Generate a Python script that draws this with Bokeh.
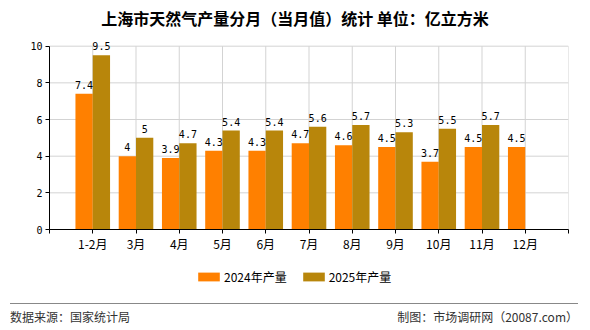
from bokeh.plotting import figure
from bokeh.layouts import column
from bokeh.models import (ColumnDataSource, FixedTicker, Legend, LegendItem, Range1d, Div)
from bokeh.embed import file_html
from bokeh.resources import INLINE
from bokeh.core.properties import value

title_text = "上海市天然气产量分月（当月值）统计 单位：亿立方米"
categories = ["1-2月", "3月", "4月", "5月", "6月", "7月", "8月", "9月", "10月", "11月", "12月"]
v2024 = [7.4, 4, 3.9, 4.3, 4.3, 4.7, 4.6, 4.5, 3.7, 4.5, 4.5]
v2025 = [9.5, 5, 4.7, 5.4, 5.4, 5.6, 5.7, 5.3, 5.5, 5.7, None]
y_ticks = [0, 2, 4, 6, 8, 10]
series_names = ["2024年产量", "2025年产量"]
colors = ["#FF8000", "#B8860B"]
source_left = "数据来源：国家统计局"
source_right = "制图：市场调研网（20087.com）"

BAR_W = 0.4
GRID = "#d3d3d3"


def make_source(vals, shift):
    xs, tops, labels = [], [], []
    for i, v in enumerate(vals):
        if v is None:
            continue
        xs.append(i + 1 + shift)
        tops.append(v)
        labels.append(f"{v:g}")
    return ColumnDataSource(dict(x=xs, top=tops, label=labels))


s24 = make_source(v2024, -BAR_W / 2)
s25 = make_source(v2025, BAR_W / 2)

n = len(categories)
x_end = n + 1
y_max = y_ticks[-1]

title_div = Div(text=title_text, width=590, height=36,
                styles={"font-family": "Noto Sans CJK SC", "font-size": "16px",
                        "font-weight": "bold", "text-align": "center", "line-height": "36px",
                        "color": "black", "width": "590px", "height": "36px",
                        "margin": "0", "padding": "0", "background": "white"})

# main figure spans page y 36..257; frame 40..229 (0..10 maps 229..46)
p = figure(width=590, height=221, x_range=Range1d(0, x_end), y_range=Range1d(0, 10.31),
           output_backend="svg", toolbar_location=None,
           min_border_left=49, min_border_right=22, min_border_top=4, min_border_bottom=28)
p.outline_line_color = None
p.background_fill_color = "white"
p.border_fill_color = "white"
p.xgrid.visible = False
p.ygrid.visible = False

xt = FixedTicker(ticks=list(range(0, x_end + 1)))
yt = FixedTicker(ticks=y_ticks)
p.xaxis.ticker = xt
p.yaxis.ticker = yt
p.yaxis.bounds = (0, y_max)
overrides = {0: "", x_end: ""}
for i, c in enumerate(categories):
    overrides[i + 1] = c
p.xaxis.major_label_overrides = overrides

for ax in (p.xaxis[0], p.yaxis[0]):
    ax.axis_line_color = "black"
    ax.major_tick_line_color = "black"
    ax.minor_tick_line_color = None
    ax.major_tick_out = 4
    ax.major_tick_in = 0
    ax.major_label_text_color = "black"
p.xaxis.major_label_standoff = 1
p.yaxis.major_label_standoff = 3
p.xaxis.major_label_text_font = "Noto Sans CJK SC"
p.xaxis.major_label_text_font_size = "12px"
p.yaxis.major_label_text_font = "DejaVu Sans Mono"
p.yaxis.major_label_text_font_size = "10px"

# grid lines from the tick positions, limited to the 0..10 box
gx = list(range(1, x_end + 1))
p.segment(x0=gx, x1=gx, y0=[0] * len(gx), y1=[y_max] * len(gx), line_color=GRID, line_width=1)
gy = y_ticks[1:]
p.segment(x0=[0] * len(gy), x1=[x_end] * len(gy), y0=gy, y1=gy, line_color=GRID, line_width=1)

r1 = p.vbar(x="x", top="top", width=BAR_W, source=s24, fill_color=colors[0], line_color=None)
r2 = p.vbar(x="x", top="top", width=BAR_W, source=s25, fill_color=colors[1], line_color=None)

for s in (s24, s25):
    p.text(x="x", y="top", text="label", source=s, text_align="center", text_baseline="bottom",
           y_offset=-5, text_font=value("DejaVu Sans Mono"), text_font_size="10px",
           text_color="black")

# legend strip (page y 257..297): the same series drawn again, out of its visible range,
# only so that the legend has glyphs to show
lg = figure(width=590, height=40, x_range=Range1d(0, x_end), y_range=Range1d(100, 101),
            output_backend="svg", toolbar_location=None, x_axis_type=None, y_axis_type=None,
            min_border_left=49, min_border_right=22, min_border_top=0, min_border_bottom=0)
lg.outline_line_color = None
lg.background_fill_color = "white"
lg.border_fill_color = "white"
lg.xgrid.visible = False
lg.ygrid.visible = False
k1 = lg.vbar(x="x", top="top", width=BAR_W, source=s24, fill_color=colors[0], line_color=None)
k2 = lg.vbar(x="x", top="top", width=BAR_W, source=s25, fill_color=colors[1], line_color=None)
legend = Legend(items=[LegendItem(label=series_names[0], renderers=[k1]),
                       LegendItem(label=series_names[1], renderers=[k2])],
                orientation="horizontal", location=(146, 12),
                border_line_color=None, background_fill_alpha=0, padding=0, margin=0,
                spacing=13, glyph_width=27, glyph_height=11, label_standoff=2,
                label_text_font="Noto Sans CJK SC", label_text_font_size="12px",
                label_text_color="black", label_height=11)
lg.add_layout(legend)

footer_html = (
    '<div style="margin:6px 0 0 10px;width:568px;border-top:1px solid #888888;padding-top:5px;'
    'display:flex;justify-content:space-between;font-family:\'Noto Sans CJK SC\';'
    'font-size:12px;line-height:16px;color:#333333;">'
    f'<span>{source_left}</span><span>{source_right}</span></div>'
)
footer_div = Div(text=footer_html, width=590, height=33,
                 styles={"width": "590px", "height": "33px", "margin": "0", "padding": "0",
                         "background": "white"})

layout = column(title_div, p, lg, footer_div, spacing=0)
open("out.html", "w").write(file_html(layout, INLINE))
